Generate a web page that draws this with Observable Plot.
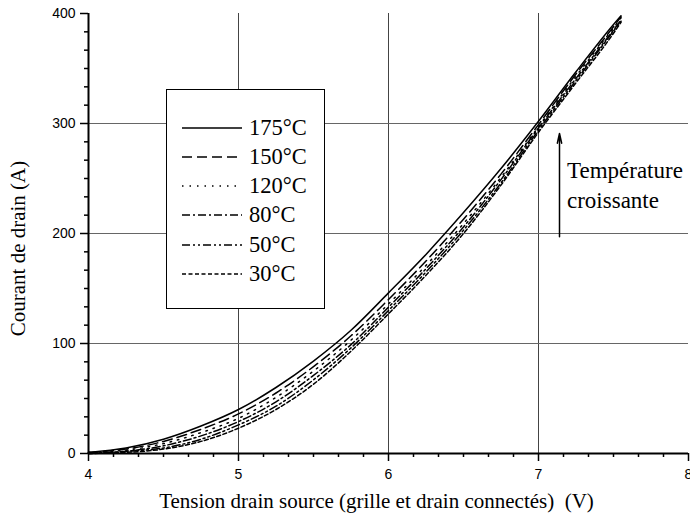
<!DOCTYPE html>
<html><head><meta charset="utf-8">
<script src="https://cdn.jsdelivr.net/npm/d3@7"></script>
<script src="https://cdn.jsdelivr.net/npm/@observablehq/plot@0.6"></script>
<style>
body{margin:0;background:#fff;}
#wrap{position:relative;width:690px;height:526px;}
#legend{position:absolute;left:166px;top:89px;width:159px;height:220px;border:1px solid #000;background:#fff;box-sizing:border-box;font-family:"Liberation Serif","Times New Roman",serif;font-size:22.5px;color:#000;}
.row{position:absolute;left:15px;height:24px;display:flex;align-items:center;white-space:nowrap;}
.row svg{margin-right:7px;}
</style></head><body><div id="wrap"></div>
<script>
// ---- data ----
const temperatures = ["175°C", "150°C", "120°C", "80°C", "50°C", "30°C"];
const voltage = [4, 4.25, 4.5, 4.75, 5, 5.25, 5.5, 5.75, 6, 6.25, 6.5, 6.75, 7, 7.25, 7.5, 7.55];
const i175 = [1, 5, 13, 25, 40, 60, 84, 112, 146, 181, 219, 259, 302, 347, 390, 398];
const i150 = [1, 4, 11, 22, 36, 55, 79, 107, 140, 175, 213, 254, 299, 345, 388, 397];
const i120 = [1, 3, 9, 19, 32, 51, 75, 103, 136, 171, 209, 251, 297, 343, 387, 396];
const i80  = [0, 2, 7, 16, 29, 47, 71, 99, 133, 168, 206, 249, 296, 341, 385, 394];
const i50  = [0, 2, 5, 13, 26, 43, 67, 96, 130, 165, 203, 246, 294, 339, 384, 393];
const i30  = [0, 1, 4, 11, 23, 40, 63, 93, 127, 162, 200, 244, 292, 337, 382, 392];
const xTicks = [4, 5, 6, 7, 8];
const yTicks = [0, 100, 200, 300, 400];
const xLabel = "Tension drain source (grille et drain connectés)  (V)";
const yLabel = "Courant de drain (A)";
const annotationLines = ["Température", "croissante"];

// ---- styles ----
const currents = [i175, i150, i120, i80, i50, i30];
const dashes = ["none", "10,5", "1.5,6", "8,3,2,3", "8,3,2,3,2,3", "4,2.5"];
const serif = "'Liberation Serif','Times New Roman',serif";

const minorX = d3.range(0, 25).map(i => 4 + i / 6).filter(v => Math.abs(v - Math.round(v)) > 1e-6);
const minorY = d3.range(0, 25).map(i => i * 100 / 6).filter(v => Math.abs(v % 100) > 1e-6 && Math.abs(v % 100 - 100) > 1e-6);

const lineMarks = currents.map((vals, k) =>
  Plot.line(voltage.map((v, i) => ({v, c: vals[i]})), {
    x: "v", y: "c", stroke: "#000", strokeWidth: 1.5, curve: "monotone-x",
    strokeDasharray: dashes[k] === "none" ? undefined : dashes[k]
  }));

const arrowData = [{x: 7.14, y1: 197, y2: 291}];
const annotData = annotationLines.map((t, i) => ({t, x: 7.19, y: [257, 230][i]}));

const chart = Plot.plot({
  width: 690, height: 526,
  marginLeft: 88, marginRight: 2, marginTop: 13, marginBottom: 73,
  style: {fontFamily: "'Liberation Sans',Arial,sans-serif", fontSize: "14px", background: "#fff", color: "#000"},
  x: {domain: [4, 8]},
  y: {domain: [0, 400]},
  marks: [
    Plot.ruleX(xTicks.slice(1, -1), {stroke: "#444", strokeWidth: 1}),
    Plot.ruleY(yTicks.slice(1, -1), {stroke: "#666", strokeWidth: 1}),
    ...lineMarks,
    Plot.arrow(arrowData, {x1: "x", x2: "x", y1: "y1", y2: "y2", stroke: "#000", strokeWidth: 1.5, headLength: 10, headAngle: 25}),
    Plot.text(annotData, {x: "x", y: "y", text: "t", textAnchor: "start", fontFamily: serif, fontSize: 23, fill: "#000"}),
    Plot.axisX(minorX, {tickSize: 4, tickFormat: () => "", strokeWidth: 1.5, label: null}),
    Plot.axisX(xTicks, {tickSize: 8, tickPadding: 8, strokeWidth: 1.5, fontSize: 14, tickFormat: d => d, label: null}),
    Plot.axisY(minorY, {tickSize: 4, tickFormat: () => "", strokeWidth: 1.5, label: null}),
    Plot.axisY(yTicks, {tickSize: 8, tickPadding: 5, strokeWidth: 1.5, fontSize: 14, tickFormat: d => d, label: null}),
    Plot.ruleY([0], {strokeWidth: 2, stroke: "#000"}),
    Plot.ruleX([4], {strokeWidth: 2, stroke: "#000"}),
    Plot.text([xLabel], {frameAnchor: "bottom", textAnchor: "middle", dy: 54, dx: -12, fontFamily: serif, fontSize: 21, fill: "#000"}),
    Plot.text([yLabel], {frameAnchor: "left", textAnchor: "middle", dx: -70, dy: 15, rotate: -90, fontFamily: serif, fontSize: 21, fill: "#000"})
  ]
});

const wrap = document.getElementById("wrap");
wrap.appendChild(chart);

// legend box
const legend = document.createElement("div");
legend.id = "legend";
temperatures.forEach((t, k) => {
  const row = document.createElement("div");
  row.className = "row";
  row.style.top = (37.7 + k * 29.2 - 12) + "px";
  const ns = "http://www.w3.org/2000/svg";
  const svg = document.createElementNS(ns, "svg");
  svg.setAttribute("width", 60); svg.setAttribute("height", 24);
  const ln = document.createElementNS(ns, "line");
  ln.setAttribute("x1", 0); ln.setAttribute("x2", 60);
  ln.setAttribute("y1", 12); ln.setAttribute("y2", 12);
  ln.setAttribute("stroke", "#000"); ln.setAttribute("stroke-width", 1.5);
  if (dashes[k] !== "none") ln.setAttribute("stroke-dasharray", dashes[k]);
  svg.appendChild(ln);
  row.appendChild(svg);
  const span = document.createElement("span");
  span.textContent = t;
  row.appendChild(span);
  legend.appendChild(row);
});
wrap.appendChild(legend);
</script>
</body></html>
